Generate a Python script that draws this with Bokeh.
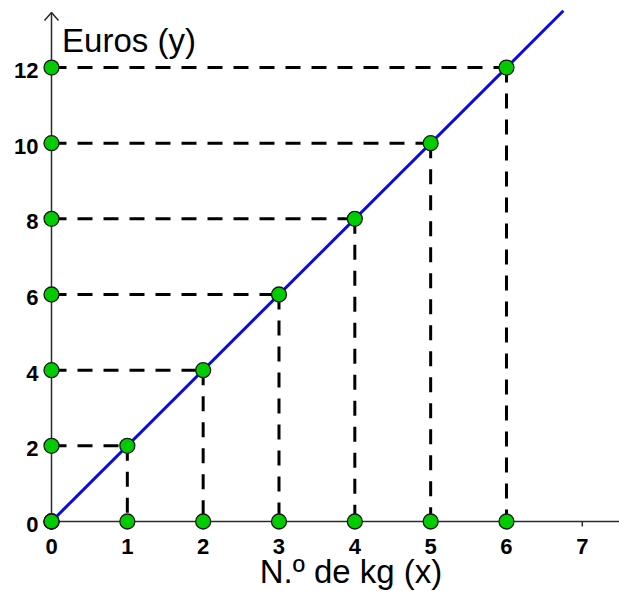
from bokeh.plotting import figure
from bokeh.models import Range1d
from bokeh.core.properties import value
from bokeh.embed import file_html
from bokeh.resources import INLINE

# ---- data ----
kg = [0, 1, 2, 3, 4, 5, 6]
euros = [0, 2, 4, 6, 8, 10, 12]
x_ticks = [0, 1, 2, 3, 4, 5, 6, 7]
y_ticks = [0, 2, 4, 6, 8, 10, 12]
x_tick_labels = [str(v) for v in x_ticks]
y_tick_labels = [str(v) for v in y_ticks]
x_title = "N.º de kg (x)"
y_title = "Euros (y)"
line_end_x = 6.75  # price line y = 2x continues past the last point

W, H = 619, 591
PX_X = 75.83   # pixels per x unit
PX_Y = 37.83   # pixels per y unit
ORIG_X_PX = 51  # frame pixel of x=0
ORIG_Y_PX = 521  # frame pixel (from top) of y=0

x0 = -ORIG_X_PX / PX_X
x1 = x0 + W / PX_X
y1 = ORIG_Y_PX / PX_Y
y0 = y1 - H / PX_Y

p = figure(width=W, height=H, output_backend="svg", toolbar_location=None,
           x_range=Range1d(x0, x1), y_range=Range1d(y0, y1),
           x_axis_location=None, y_axis_location=None, min_border=0)
p.grid.visible = False
p.outline_line_color = None
p.background_fill_color = "white"

axis_col = "#2b2b2b"
x_axis_end = x1
y_axis_end = (ORIG_Y_PX - 12) / PX_Y

# axes
p.segment(x0=[0], y0=[0], x1=[x_axis_end], y1=[0], line_color=axis_col, line_width=1.5)
p.segment(x0=[0], y0=[0], x1=[0], y1=[y_axis_end], line_color=axis_col, line_width=1.5)
# arrow head on y axis
aw, ah = 7 / PX_X, 8 / PX_Y
p.line(x=[-aw, 0, aw], y=[y_axis_end - ah, y_axis_end, y_axis_end - ah],
       line_color=axis_col, line_width=1.5)
# x tick marks
p.segment(x0=x_ticks, y0=[0] * len(x_ticks), x1=x_ticks,
          y1=[-5 / PX_Y] * len(x_ticks), line_color=axis_col, line_width=1.5)

# dashed guide lines
p.segment(x0=[0] * len(kg), y0=euros, x1=kg, y1=euros,
          line_color="black", line_width=3, line_dash="15 11")
p.segment(x0=kg, y0=euros, x1=kg, y1=[0] * len(kg),
          line_color="black", line_width=3, line_dash="15 11")

# price line y = 2x
p.line(x=[0, line_end_x], y=[0, 2 * line_end_x], line_color="#0a0ae6", line_width=3)

# dots
dot_kw = dict(size=15, fill_color="#00cc00", line_color="#1a1a1a", line_width=1.3)
p.scatter(x=[0] * len(euros), y=euros, **dot_kw)
p.scatter(x=kg, y=[0] * len(kg), **dot_kw)
p.scatter(x=kg, y=euros, **dot_kw)

# tick labels
p.text(x=x_ticks, y=[0] * len(x_ticks), text=x_tick_labels,
       text_font=value("Liberation Sans"), text_font_style="bold",
       text_font_size="22px", text_align="center", text_baseline="alphabetic",
       y_offset=25, text_color="black")
p.text(x=[0] * len(y_ticks), y=y_ticks, text=y_tick_labels,
       text_font=value("Liberation Sans"), text_font_style="bold",
       text_font_size="22px", text_align="right", text_baseline="alphabetic",
       x_offset=-13, y_offset=3, text_color="black")

# axis titles
p.text(x=[(128.5 - 51) / PX_X], y=[(521 - 40) / PX_Y], text=[y_title],
       text_font=value("Liberation Sans"), text_font_size="33px",
       text_align="center", text_baseline="alphabetic", text_color="black")
p.text(x=[(350.5 - 51) / PX_X], y=[(521 - 571) / PX_Y], text=[x_title],
       text_font=value("Liberation Sans"), text_font_size="33px",
       text_align="center", text_baseline="alphabetic", text_color="black")

open("out.html", "w").write(file_html(p, INLINE))
